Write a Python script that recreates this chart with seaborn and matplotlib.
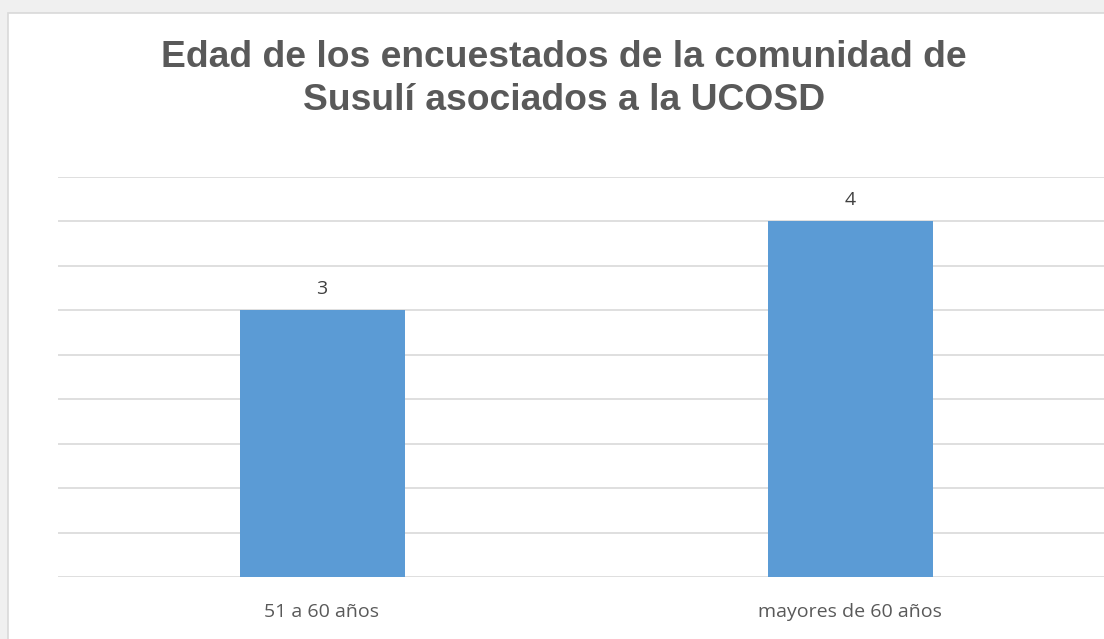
import matplotlib
matplotlib.use("Agg")
import matplotlib.pyplot as plt
import seaborn as sns
import pandas as pd
from matplotlib.patches import Rectangle

categorias = ["51 a 60 años", "mayores de 60 años"]
valores = [3, 4]

sns.set_theme(style="white")
plt.rcParams["font.family"] = ["Liberation Sans", "DejaVu Sans"]

df = pd.DataFrame({"edad": categorias, "n": valores})

fig = plt.figure(figsize=(11.04, 6.39), dpi=100, facecolor="#F0F0F0")
# white chart area with thin border (runs off the right and bottom edges)
fig.patches.append(Rectangle((8 / 1104, -0.05), 1.0, 1.05 - 13 / 639, transform=fig.transFigure,
                             facecolor="white", edgecolor="#D9D9D9", linewidth=1.2, zorder=-5))

ax = fig.add_axes([58 / 1104, 62 / 639, 1056 / 1104, 400 / 639])
ax.set_zorder(2)
ax.set_facecolor("none")
sns.barplot(data=df, x="edad", y="n", color="#5B9BD5", width=0.3125, saturation=1,
            linewidth=0, ax=ax)

ax.set_xlim(-0.5, 1.5)
ax.set_ylim(0, 4.5)
ax.set_yticks([i * 0.5 for i in range(10)])
ax.yaxis.grid(True, color="#D9D9D9", linewidth=1.2)
ax.set_axisbelow(True)
ax.tick_params(axis="y", left=False, labelleft=False)
ax.tick_params(axis="x", bottom=False, labelsize=14, labelcolor="#595959", pad=13)
for lab in ax.get_xticklabels():
    lab.set_family(["Open Sans", "DejaVu Sans"])
for s in ax.spines.values():
    s.set_visible(False)
ax.set_xlabel("")
ax.set_ylabel("")

ax.bar_label(ax.containers[0], padding=9, fontsize=14, color="#404040", family=["Open Sans", "DejaVu Sans"])

fig.text(0.511, 1 - 79 / 639, "Edad de los encuestados de la comunidad de\nSusulí asociados a la UCOSD",
         ha="center", va="center", fontsize=26.8, fontweight="bold", color="#595959", linespacing=1.26,
         zorder=3)

fig.savefig("out.png", dpi=100, facecolor=fig.get_facecolor())
